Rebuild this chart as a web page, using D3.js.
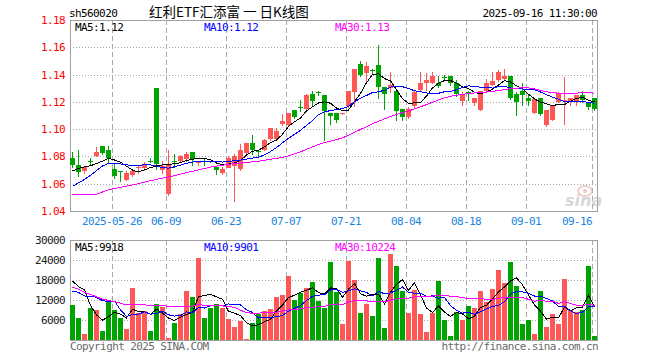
<!DOCTYPE html>
<html><head><meta charset="utf-8">
<script src="https://cdn.jsdelivr.net/npm/d3@7"></script>
<style>
html,body{margin:0;padding:0;background:#fff;}
svg{display:block;}
.mono{font-family:"DejaVu Sans Mono",monospace;font-size:11px;letter-spacing:-0.6px;}
</style></head><body>
<svg id="c" width="660" height="360"></svg>
<script>
// ---------- DATA ----------
const dates = [
"2025-05-15","2025-05-16","2025-05-19","2025-05-20","2025-05-21","2025-05-22","2025-05-23","2025-05-26","2025-05-27","2025-05-28","2025-05-29","2025-05-30",
"2025-06-03","2025-06-04","2025-06-05","2025-06-06","2025-06-09","2025-06-10","2025-06-11","2025-06-12","2025-06-13","2025-06-16","2025-06-17","2025-06-18","2025-06-19","2025-06-20",
"2025-06-23","2025-06-24","2025-06-25","2025-06-26","2025-06-27","2025-06-30",
"2025-07-01","2025-07-02","2025-07-03","2025-07-04","2025-07-07","2025-07-08","2025-07-09","2025-07-10","2025-07-11","2025-07-14","2025-07-15","2025-07-16","2025-07-17","2025-07-18",
"2025-07-21","2025-07-22","2025-07-23","2025-07-24","2025-07-25","2025-07-28","2025-07-29","2025-07-30","2025-07-31",
"2025-08-01","2025-08-04","2025-08-05","2025-08-06","2025-08-07","2025-08-08","2025-08-11","2025-08-12","2025-08-13","2025-08-14","2025-08-15",
"2025-08-18","2025-08-19","2025-08-20","2025-08-21","2025-08-22","2025-08-25","2025-08-26","2025-08-27","2025-08-28","2025-08-29",
"2025-09-01","2025-09-02","2025-09-03","2025-09-04","2025-09-05","2025-09-08","2025-09-09","2025-09-10","2025-09-11","2025-09-12","2025-09-15","2025-09-16"];

const opens = [1.079,1.074,1.069,1.077,1.080,1.088,1.085,1.071,1.069,1.063,1.066,1.071,1.072,1.077,1.130,1.070,1.053,1.077,1.076,1.078,1.083,1.075,1.077,1.077,1.072,1.068,
1.072,1.073,1.071,1.083,1.090,1.084,1.085,1.093,1.093,1.104,1.103,1.114,1.116,1.115,1.126,1.127,1.125,1.112,1.112,1.111,
1.117,1.127,1.148,1.141,1.143,1.147,1.131,1.130,1.128,1.115,1.109,1.117,1.129,1.134,1.134,1.134,1.138,1.139,1.134,1.121,
1.127,1.119,1.114,1.128,1.132,1.136,1.137,1.139,1.126,1.128,1.123,1.112,1.123,1.103,1.107,1.120,1.120,1.121,1.120,1.125,1.120,1.123];
const highs = [1.083,1.085,1.073,1.079,1.087,1.088,1.088,1.075,1.069,1.069,1.070,1.074,1.076,1.079,1.130,1.077,1.085,1.082,1.081,1.083,1.083,1.077,1.078,1.077,1.072,1.072,
1.080,1.082,1.089,1.090,1.096,1.085,1.093,1.101,1.101,1.111,1.112,1.114,1.121,1.126,1.128,1.128,1.125,1.112,1.112,1.112,
1.128,1.144,1.150,1.149,1.144,1.162,1.131,1.142,1.128,1.115,1.116,1.128,1.142,1.141,1.142,1.139,1.140,1.139,1.136,1.127,
1.128,1.123,1.128,1.137,1.142,1.143,1.144,1.139,1.127,1.134,1.125,1.122,1.123,1.114,1.118,1.127,1.138,1.123,1.125,1.128,1.120,1.123];
const lows = [1.072,1.066,1.068,1.074,1.080,1.082,1.076,1.064,1.062,1.063,1.066,1.068,1.070,1.076,1.071,1.068,1.052,1.072,1.076,1.077,1.074,1.074,1.074,1.076,1.067,1.067,
1.072,1.047,1.070,1.082,1.082,1.080,1.085,1.092,1.092,1.103,1.102,1.108,1.113,1.115,1.118,1.125,1.092,1.104,1.105,1.111,
1.116,1.117,1.139,1.134,1.141,1.123,1.115,1.127,1.107,1.107,1.108,1.116,1.128,1.129,1.134,1.131,1.136,1.132,1.124,1.118,
1.121,1.118,1.114,1.127,1.132,1.135,1.136,1.122,1.110,1.118,1.118,1.112,1.110,1.102,1.107,1.120,1.104,1.118,1.118,1.120,1.115,1.114];
const closes = [1.074,1.069,1.072,1.076,1.083,1.083,1.079,1.066,1.068,1.068,1.069,1.072,1.074,1.076,1.074,1.073,1.074,1.076,1.080,1.082,1.078,1.076,1.076,1.076,1.070,1.071,
1.079,1.080,1.085,1.090,1.085,1.083,1.092,1.101,1.099,1.106,1.112,1.109,1.115,1.125,1.121,1.126,1.113,1.110,1.107,1.112,
1.128,1.144,1.140,1.146,1.142,1.131,1.126,1.132,1.113,1.109,1.115,1.127,1.134,1.136,1.139,1.132,1.137,1.134,1.126,1.126,
1.126,1.123,1.128,1.134,1.135,1.142,1.139,1.123,1.120,1.125,1.121,1.122,1.111,1.114,1.118,1.126,1.121,1.123,1.125,1.121,1.116,1.115];
const volumes = [10500,6600,1900,9700,9000,2700,11500,9000,6600,3300,15700,8200,8700,2700,10800,10000,600,5200,7700,14700,13000,24600,6600,9700,10700,9600,
6300,4000,5800,300,5000,7800,8700,9300,13000,13500,19300,12000,14000,15700,17500,11800,9700,23500,14500,4800,
23800,18000,8200,10800,7300,24600,3500,25800,22200,14700,8100,15000,7800,2400,8100,17700,6000,1200,8300,6000,
10300,9600,14700,11500,15300,21000,17200,23500,16200,4800,6000,1800,14700,3900,7800,4800,18300,9000,8300,9000,22200,1200];

// closes / volumes of the 29 sessions before the visible window (only feed the moving averages)
const priorCloses = [1.078,1.074,1.072,1.076,1.035,1.030,1.038,1.042,1.040,1.045,1.043,1.041,1.044,1.046,1.045,
1.047,1.048,1.046,1.049,1.050,1.044,1.046,1.047,1.048,1.049,1.060,1.066,1.072,1.075];
const priorVolumes = [26000,31000,28000,30000,25000,22000,21000,20000,19300,12000,10000,9000,11000,8000,9500,
10500,8700,9000,10000,10000,11000,12500,10000,13000,12000,15000,7000,33000,23000];

const priceTicks = [1.18,1.16,1.14,1.12,1.10,1.08,1.06,1.04];
const volumeTicks = [30000,24000,18000,12000,6000];
const dateTicks = ["2025-05-26","2025-06-09","2025-06-23","2025-07-07","2025-07-21","2025-08-04","2025-08-18","2025-09-01","2025-09-16"];
const dateTickLabels = ["2025-05-26","06-09","06-23","07-07","07-21","08-04","08-18","09-01","09-16"];
const priceLegend = ["MA5:1.12","MA10:1.12","MA30:1.13"];
const volumeLegend = ["MA5:9918","MA10:9901","MA30:10224"];
const maPeriods = [5,10,30];

// ---------- LAYOUT ----------
const L = 70, R = 597;
const pTop = 20, pBot = 211, vTop = 240, vBot = 340;
const RED = "#ff5656", GREEN = "#00a400", GRID = "#a8a8a8", FRAME = "#a0a0a0";
const maColors = ["#000000","#0000ff","#ff00ff"];

const svg = d3.select("#c").attr("shape-rendering","crispEdges");

const x = d3.scaleBand().domain(dates).range([L, R]).paddingInner(1/6).paddingOuter(0);
const y = d3.scaleLinear().domain([1.04, 1.18]).range([pBot, pTop]);
const yv = d3.scaleLinear().domain([0, 30000]).range([vBot, vTop]);
const bw = x.bandwidth();
const cx = d => x(d) + Math.floor(bw/2) + 0.5;

function movingAvg(prior, vals, n){
  const all = prior.concat(vals);
  return vals.map((_, i) => { const e = prior.length + i; return d3.mean(all.slice(e - n + 1, e + 1)); });
}

// ---------- GRID ----------
function hGrid(scale, ticks){
  svg.append("g").selectAll("line").data(ticks).join("line")
    .attr("x1", L).attr("x2", R)
    .attr("y1", d => Math.round(scale(d)) + 0.5).attr("y2", d => Math.round(scale(d)) + 0.5)
    .attr("stroke", GRID).attr("stroke-dasharray", "1,2");
}
hGrid(y, priceTicks.slice(1, -1));
hGrid(yv, volumeTicks.slice(1));

function vGrid(t, b){
  svg.append("g").selectAll("line").data(dateTicks).join("line")
    .attr("x1", d => x(d) + 0.5).attr("x2", d => x(d) + 0.5)
    .attr("y1", t).attr("y2", b)
    .attr("stroke", GRID).attr("stroke-dasharray", "5,3");
}
vGrid(pTop, pBot);
vGrid(vTop, vBot);

// ---------- FRAMES ----------
function frame(t, b){
  svg.append("rect").attr("x", L + 0.5).attr("y", t + 0.5).attr("width", R - L).attr("height", b - t)
    .attr("fill", "none").attr("stroke", FRAME);
}
frame(pTop, pBot);
frame(vTop, vBot);

// ---------- AXES ----------
const yAxis = svg.append("g").attr("transform", `translate(${L - 1},0)`)
  .call(d3.axisLeft(y).tickValues(priceTicks).tickFormat(d3.format(".2f")).tickSize(0).tickPadding(4));
yAxis.select(".domain").remove();
yAxis.selectAll("text").attr("class","mono").attr("fill","#ff0000").style("font-family",null).style("font-size",null);
yAxis.attr("font-family", null).attr("font-size", null);

const vAxis = svg.append("g").attr("transform", `translate(${L - 1},0)`)
  .call(d3.axisLeft(yv).tickValues(volumeTicks).tickFormat(d3.format("d")).tickSize(0).tickPadding(4));
vAxis.select(".domain").remove();
vAxis.selectAll("text").attr("class","mono").attr("fill","#222");
vAxis.attr("font-family", null).attr("font-size", null);

const labelMap = new Map(dateTicks.map((d, i) => [d, dateTickLabels[i]]));
const xAxis = svg.append("g").attr("transform", `translate(${-Math.floor(bw/2) - 0.5},${pBot + 3})`)
  .call(d3.axisBottom(x).tickValues(dateTicks).tickFormat(d => labelMap.get(d)).tickSize(0).tickPadding(3));
xAxis.select(".domain").remove();
xAxis.attr("font-family", null).attr("font-size", null);
xAxis.selectAll("text").attr("class","mono").attr("fill","#1a84e0");
xAxis.selectAll(".tick").filter((d, i, n) => i === n.length - 1).select("text").attr("text-anchor","end").attr("x", 0);

// ---------- CANDLES ----------
const idx = d3.range(dates.length);
const candles = svg.append("g");
candles.selectAll("line").data(idx).join("line")
  .attr("x1", i => cx(dates[i])).attr("x2", i => cx(dates[i]))
  .attr("y1", i => Math.round(y(highs[i]))).attr("y2", i => Math.round(y(lows[i])) + 1)
  .attr("stroke", i => closes[i] >= opens[i] ? RED : GREEN);
candles.selectAll("rect").data(idx).join("rect")
  .attr("x", i => x(dates[i])).attr("width", bw)
  .attr("y", i => Math.round(y(Math.max(opens[i], closes[i]))))
  .attr("height", i => Math.max(1, Math.round(Math.abs(y(opens[i]) - y(closes[i])))))
  .attr("fill", i => closes[i] >= opens[i] ? RED : GREEN);

// ---------- VOLUME BARS ----------
svg.append("g").selectAll("rect").data(idx).join("rect")
  .attr("x", i => x(dates[i])).attr("width", bw)
  .attr("y", i => Math.round(yv(volumes[i])))
  .attr("height", i => vBot - Math.round(yv(volumes[i])))
  .attr("fill", i => closes[i] >= opens[i] ? RED : GREEN);

// ---------- MOVING AVERAGES ----------
maPeriods.forEach((n, k) => {
  const mp = movingAvg(priorCloses, closes, n);
  svg.append("path").datum(idx)
    .attr("d", d3.line().x(i => cx(dates[i])).y(i => y(mp[i])))
    .attr("fill","none").attr("stroke", maColors[k]).attr("stroke-width", 1);
  const mv = movingAvg(priorVolumes, volumes, n);
  svg.append("path").datum(idx)
    .attr("d", d3.line().x(i => cx(dates[i])).y(i => yv(mv[i])))
    .attr("fill","none").attr("stroke", maColors[k]).attr("stroke-width", 1);
});

// ---------- LEGENDS ----------
const legendX = [75, 204, 335];
priceLegend.forEach((t, k) => svg.append("text").attr("class","mono").attr("x", legendX[k]).attr("y", 30.5).attr("fill", maColors[k]).text(t));
volumeLegend.forEach((t, k) => svg.append("text").attr("class","mono").attr("x", legendX[k]).attr("y", 250.5).attr("fill", maColors[k]).text(t));

// ---------- HEADER / FOOTER ----------
svg.append("text").attr("class","mono").attr("x", 69).attr("y", 16.5).attr("fill","#000").text("sh560020");
svg.append("text").attr("x", 149).attr("y", 16.5).attr("fill","#000")
  .style("font-family", '"Noto Sans CJK SC","Noto Sans",sans-serif').style("font-size","13.5px")
  .text("红利ETF汇添富 一 日K线图");
svg.append("text").attr("class","mono").attr("x", 597).attr("y", 16.5).attr("text-anchor","end").attr("fill","#000").text("2025-09-16 11:30:00");
svg.append("text").attr("class","mono").attr("x", 70).attr("y", 349.5).attr("fill","#6a6a6a").text("Copyright 2025 SINA.COM");
svg.append("text").attr("class","mono").attr("x", 598).attr("y", 349.5).attr("text-anchor","end").attr("fill","#6a6a6a").text("http://finance.sina.com.cn");

// sina watermark
const wm = svg.append("g").attr("shape-rendering","auto").attr("opacity",0.55);
wm.append("ellipse").attr("cx", 585).attr("cy", 191).attr("rx", 7).attr("ry", 5).attr("fill","none").attr("stroke","#e8a0a0").attr("stroke-width",2);
wm.append("circle").attr("cx", 585).attr("cy", 191).attr("r", 2).attr("fill","#e8a0a0");
wm.append("text").attr("x", 565).attr("y", 206).attr("fill","#b8b8b8")
  .style("font-family","DejaVu Sans, sans-serif").style("font-size","16px").style("font-weight","bold").style("font-style","italic").text("sina");
</script>
</body></html>
